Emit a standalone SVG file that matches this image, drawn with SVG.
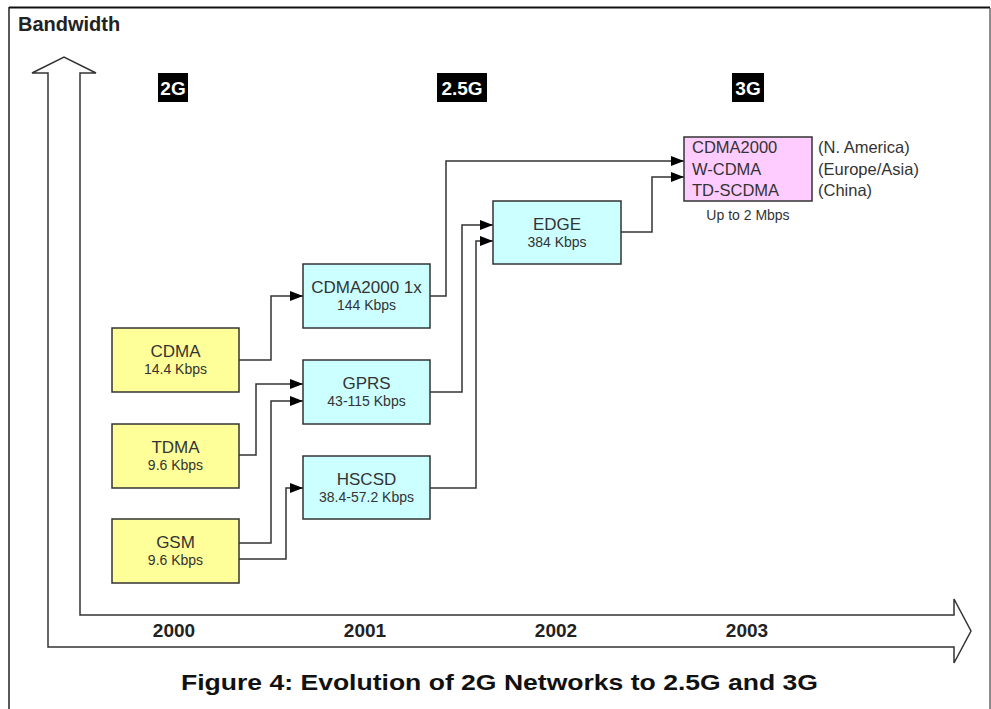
<svg xmlns="http://www.w3.org/2000/svg" width="991" height="709" viewBox="0 0 991 709">
<style>
text{font-family:"Liberation Sans",Arial,sans-serif}
.box{stroke:#333;stroke-width:1.5}
.y{fill:#FFFF99}
.c{fill:#CCFFFF}
.p{fill:#FFCCFF}
.main{font-size:17px;fill:#333;text-anchor:middle}
.sub{font-size:14px;fill:#333;text-anchor:middle}
.tag{font-size:19px;font-weight:bold;fill:#fff;text-anchor:middle}
.year{font-size:19px;font-weight:bold;fill:#222;text-anchor:middle}
.lst{font-size:16.5px;fill:#333}
.conn{fill:none;stroke:#333;stroke-width:1.5;marker-end:url(#ah)}
</style>
<defs>
<marker id="ah" markerUnits="userSpaceOnUse" markerWidth="13" markerHeight="10" refX="13" refY="5" orient="auto">
<path d="M0,0 L13,5 L0,10 z" fill="#000"/>
</marker>
</defs>
<rect width="991" height="709" fill="#fff"/>
<g id="frame">
<line x1="9" y1="7.5" x2="990" y2="7.5" stroke="#111" stroke-width="2"/>
<line x1="9" y1="7" x2="9" y2="709" stroke="#222" stroke-width="1.5"/>
<line x1="990" y1="8" x2="990" y2="709" stroke="#666" stroke-width="1.5"/>
</g>
<text x="18" y="31" font-size="20" font-weight="bold" fill="#222">Bandwidth</text>
<g id="axes">
<path d="M48,647 L48,73 L32,73 L64,57 L96,73 L80,73 L80,615 L954,615 L954,599 L971,631 L954,663 L954,647 Z" fill="none" stroke="#333" stroke-width="1.5" stroke-linejoin="miter"/>
<text class="year" x="174" y="637">2000</text>
<text class="year" x="365" y="637">2001</text>
<text class="year" x="556" y="637">2002</text>
<text class="year" x="747" y="637">2003</text>
</g>
<g id="tag-2g"><rect x="158" y="73" width="30" height="29" fill="#000"/><text class="tag" x="173" y="95">2G</text></g>
<g id="tag-25g"><rect x="437" y="73" width="50" height="29" fill="#000"/><text class="tag" x="462" y="95">2.5G</text></g>
<g id="tag-3g"><rect x="732" y="73" width="32" height="29" fill="#000"/><text class="tag" x="748" y="95">3G</text></g>
<g id="connectors">
<path class="conn" d="M239,360 H271 V296 H303"/>
<path class="conn" d="M239,455 H256 V384 H303"/>
<path class="conn" d="M239,543 H271 V401 H303"/>
<path class="conn" d="M239,559 H286 V488 H303"/>
<path class="conn" d="M430,296 H446 V161 H684"/>
<path class="conn" d="M430,392 H462 V225 H493"/>
<path class="conn" d="M430,488 H476 V241 H493"/>
<path class="conn" d="M621,232 H652 V177 H684"/>
</g>
<g id="cdma"><rect class="box y" x="112" y="328" width="127" height="64"/><text class="main" x="175.5" y="357">CDMA</text><text class="sub" x="175.5" y="374">14.4 Kbps</text></g>
<g id="tdma"><rect class="box y" x="112" y="424" width="127" height="64"/><text class="main" x="175.5" y="453">TDMA</text><text class="sub" x="175.5" y="470">9.6 Kbps</text></g>
<g id="gsm"><rect class="box y" x="112" y="519" width="127" height="64"/><text class="main" x="175.5" y="548">GSM</text><text class="sub" x="175.5" y="565">9.6 Kbps</text></g>
<g id="cdma2000-1x"><rect class="box c" x="303" y="264" width="127" height="64"/><text class="main" x="366.5" y="293">CDMA2000 1x</text><text class="sub" x="366.5" y="310">144 Kbps</text></g>
<g id="gprs"><rect class="box c" x="303" y="360" width="127" height="64"/><text class="main" x="366.5" y="389">GPRS</text><text class="sub" x="366.5" y="406">43-115 Kbps</text></g>
<g id="hscsd"><rect class="box c" x="303" y="456" width="127" height="63"/><text class="main" x="366.5" y="485">HSCSD</text><text class="sub" x="366.5" y="502">38.4-57.2 Kbps</text></g>
<g id="edge"><rect class="box c" x="493" y="201" width="128" height="63"/><text class="main" x="557" y="230">EDGE</text><text class="sub" x="557" y="247">384 Kbps</text></g>
<g id="g3">
<rect class="box p" x="684" y="137" width="128" height="64"/>
<text class="lst" x="692" y="153">CDMA2000</text>
<text class="lst" x="692" y="174.5">W-CDMA</text>
<text class="lst" x="692" y="196">TD-SCDMA</text>
<text class="lst" x="818" y="153">(N. America)</text>
<text class="lst" x="818" y="174.5">(Europe/Asia)</text>
<text class="lst" x="818" y="196">(China)</text>
<text class="sub" x="748" y="220">Up to 2 Mbps</text>
</g>
<text x="181" y="690" font-size="22" font-weight="bold" fill="#111" textLength="637" lengthAdjust="spacingAndGlyphs">Figure 4: Evolution of 2G Networks to 2.5G and 3G</text>
</svg>
